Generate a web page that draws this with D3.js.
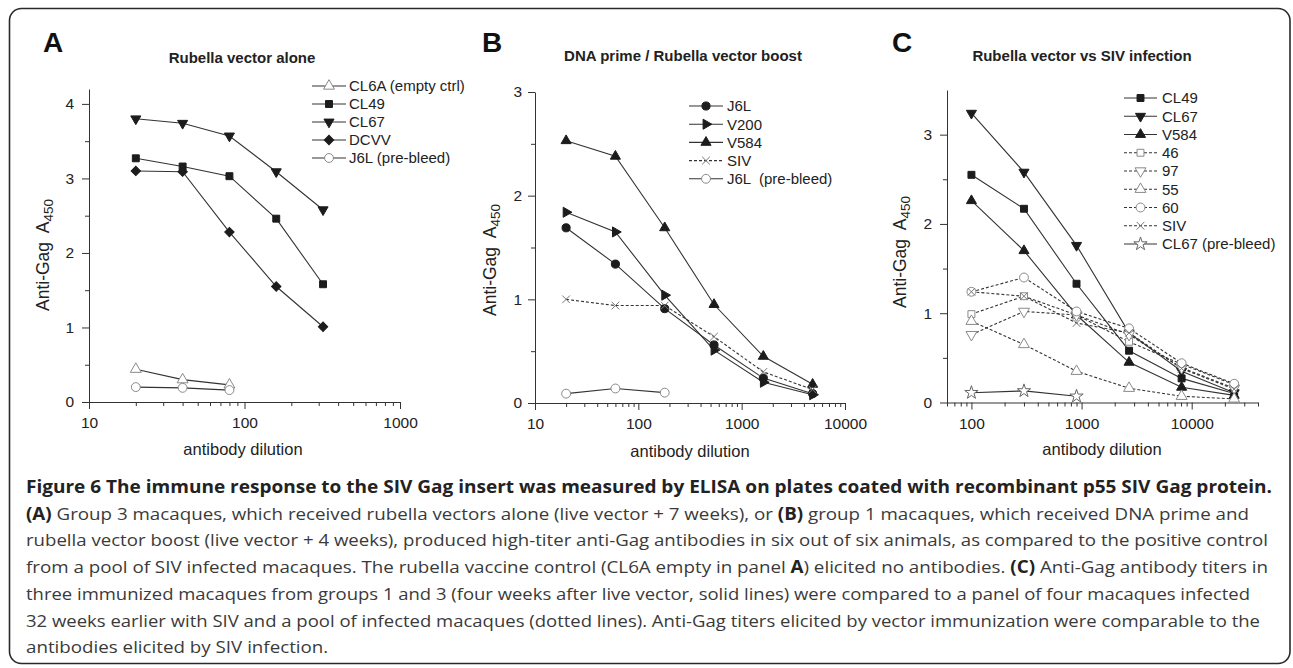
<!DOCTYPE html>
<html lang="en">
<head>
<meta charset="UTF-8">
<title>Figure 6 - anti-Gag ELISA</title>
<script src="https://d3js.org/d3.v7.min.js"></script>
<style>
    body { margin: 0; background: #fff; }
    svg { display: block; }
    .axis path, .axis line { stroke: #333; stroke-width: 1; }
    .axis text { font-family: "Liberation Sans", Arial, sans-serif; font-size: 15.5px; fill: #222; }
    .title { font-family: "Liberation Sans", Arial, sans-serif; font-size: 15px; font-weight: bold; fill: #222; }
    .letter { font-family: "Liberation Sans", Arial, sans-serif; font-size: 28px; font-weight: bold; fill: #111; }
    .lab { font-family: "Liberation Sans", Arial, sans-serif; font-size: 16.5px; fill: #222; }
    .ylab { font-family: "Liberation Sans", Arial, sans-serif; font-size: 17.5px; fill: #222; }
    .leg { font-family: "Liberation Sans", Arial, sans-serif; font-size: 15px; fill: #222; white-space: pre; }
    .cap { font-family: "Open Sans", "Noto Sans", sans-serif; font-size: 17px; fill: #3a3a3a; }
    .cap .b { font-weight: bold; fill: #222; }
</style>
</head>
<body>
<div id="chart"></div>
<script>
// ---- data ----
// panel A: rubella vector alone
const dilutionA = [20, 40, 80, 160, 320];
const aCL6A = [0.44, 0.30, 0.23];
const aCL49 = [3.27, 3.16, 3.03, 2.46, 1.58];
const aCL67 = [3.80, 3.74, 3.57, 3.09, 2.58];
const aDCVV = [3.10, 3.09, 2.28, 1.55, 1.01];
const aJ6LPre = [0.20, 0.19, 0.16];

// panel B: DNA prime / rubella vector boost
const dilutionB = [20, 60, 180, 540, 1620, 4860];
const bJ6L = [1.69, 1.34, 0.91, 0.56, 0.24, 0.09];
const bV200 = [1.84, 1.65, 1.04, 0.51, 0.20, 0.08];
const bV584 = [2.53, 2.38, 1.69, 0.95, 0.45, 0.18];
const bSIV = [1.00, 0.94, 0.94, 0.64, 0.30, 0.13];
const bJ6LPre = [0.09, 0.14, 0.10];

// panel C: rubella vector vs SIV infection
const dilutionC = [100, 300, 900, 2700, 8100, 24300];
const cCL49 = [2.55, 2.17, 1.33, 0.58, 0.27, 0.10];
const cCL67 = [3.24, 2.58, 1.76, 0.78, 0.35, 0.11];
const cV584 = [2.26, 1.70, 0.98, 0.45, 0.17, 0.08];
const c46 = [0.99, 1.19, 0.98, 0.68, 0.43, 0.20];
const c97 = [0.76, 1.02, 0.98, 0.76, 0.39, 0.16];
const c55 = [0.91, 0.65, 0.35, 0.16, 0.07, 0.04];
const c60 = [1.24, 1.40, 1.02, 0.83, 0.44, 0.21];
const cSIV = [1.24, 1.19, 0.89, 0.78, 0.38, 0.15];
const cCL67Pre = [0.11, 0.13, 0.07];

const xMajorA = [10, 100, 1000];
const xMajorB = [10, 100, 1000, 10000];
const xMajorC = [100, 1000, 10000];

const captionLines = [
    [["b", "Figure 6 The immune response to the SIV Gag insert was measured by ELISA on plates coated with recombinant p55 SIV Gag protein."]],
    [["b", "(A)"], ["n", " Group 3 macaques, which received rubella vectors alone (live vector + 7 weeks), or "], ["b", "(B)"], ["n", " group 1 macaques, which received DNA prime and"]],
    [["n", "rubella vector boost (live vector + 4 weeks), produced high-titer anti-Gag antibodies in six out of six animals, as compared to the positive control"]],
    [["n", "from a pool of SIV infected macaques. The rubella vaccine control (CL6A empty in panel "], ["b", "A"], ["n", ") elicited no antibodies. "], ["b", "(C)"], ["n", " Anti-Gag antibody titers in"]],
    [["n", "three immunized macaques from groups 1 and 3 (four weeks after live vector, solid lines) were compared to a panel of four macaques infected"]],
    [["n", "32 weeks earlier with SIV and a pool of infected macaques (dotted lines). Anti-Gag titers elicited by vector immunization were comparable to the"]],
    [["n", "antibodies elicited by SIV infection."]]
];
const captionEnds = [1272, 1249, 1268, 1268, 1250, 1260, null];

// ---- marker styles ----
const INK = "#1c1c1c", OPEN = "#8a8a8a", LINE = "#333";
const markers = {
    square:      { type: d3.symbolSquare, size: 48, rot: 0, fill: INK, stroke: INK },
    squareOpen:  { type: d3.symbolSquare, size: 48, rot: 0, fill: "#fff", stroke: OPEN },
    triUp:       { type: d3.symbolTriangle, size: 44, rot: 0, fill: INK, stroke: INK },
    triUpOpen:   { type: d3.symbolTriangle, size: 52, rot: 0, fill: "#fff", stroke: OPEN },
    triDown:     { type: d3.symbolTriangle, size: 44, rot: 180, fill: INK, stroke: INK },
    triDownOpen: { type: d3.symbolTriangle, size: 52, rot: 180, fill: "#fff", stroke: OPEN },
    triRight:    { type: d3.symbolTriangle, size: 44, rot: 90, fill: INK, stroke: INK },
    diamond:     { type: d3.symbolSquare, size: 44, rot: 45, fill: INK, stroke: INK },
    circle:      { type: d3.symbolCircle, size: 52, rot: 0, fill: INK, stroke: INK },
    circleOpen:  { type: d3.symbolCircle, size: 62, rot: 0, fill: "#fff", stroke: OPEN },
    cross:       { type: d3.symbolTimes || d3.symbolX, size: 40, rot: 0, fill: "none", stroke: "#777" },
    starOpen:    { type: d3.symbolStar, size: 55, rot: 0, fill: "#fff", stroke: "#666" }
};

const panels = [
    {
        letter: "A", title: "Rubella vector alone",
        xDomain: [10, 1000], xRange: [89, 400], yDomain: [0, 4.2], yRange: [402, 89],
        xMajor: xMajorA, yTicks: [0, 1, 2, 3, 4], yPad: 8,
        letterPos: [43, 52], titlePos: [242, 63], yLabPos: [49, 255], xLabPos: [243, 455],
        legend: { x1: 312, x2: 346, tx: 349, y0: 86, dy: 18 },
        series: [
            { name: "CL6A (empty ctrl)", x: dilutionA, v: aCL6A, m: "triUpOpen" },
            { name: "CL49", x: dilutionA, v: aCL49, m: "square" },
            { name: "CL67", x: dilutionA, v: aCL67, m: "triDown" },
            { name: "DCVV", x: dilutionA, v: aDCVV, m: "diamond" },
            { name: "J6L (pre-bleed)", x: dilutionA, v: aJ6LPre, m: "circleOpen" }
        ]
    },
    {
        letter: "B", title: "DNA prime / Rubella vector boost",
        xDomain: [10, 10000], xRange: [535, 845], yDomain: [0, 3], yRange: [403, 92],
        xMajor: xMajorB, yTicks: [0, 1, 2, 3], yPad: 6,
        letterPos: [482, 52], titlePos: [683, 61], yLabPos: [496, 260], xLabPos: [690, 457],
        legend: { x1: 689, x2: 723, tx: 727, y0: 106, dy: 18.2 },
        series: [
            { name: "J6L", x: dilutionB, v: bJ6L, m: "circle" },
            { name: "V200", x: dilutionB, v: bV200, m: "triRight" },
            { name: "V584", x: dilutionB, v: bV584, m: "triUp" },
            { name: "SIV", x: dilutionB, v: bSIV, m: "cross", dash: true },
            { name: "J6L  (pre-bleed)", x: dilutionB, v: bJ6LPre, m: "circleOpen" }
        ]
    },
    {
        letter: "C", title: "Rubella vector vs SIV infection",
        xDomain: [60, 40000], xRange: [947, 1258], yDomain: [0, 3.5], yRange: [402.5, 90],
        xMajor: xMajorC, yTicks: [0, 1, 2, 3], yPad: 8,
        letterPos: [892, 52], titlePos: [1082, 61], yLabPos: [906, 252], xLabPos: [1102, 455],
        legend: { x1: 1124, x2: 1157, tx: 1162, y0: 98, dy: 18.25 },
        series: [
            { name: "CL49", x: dilutionC, v: cCL49, m: "square" },
            { name: "CL67", x: dilutionC, v: cCL67, m: "triDown" },
            { name: "V584", x: dilutionC, v: cV584, m: "triUp" },
            { name: "46", x: dilutionC, v: c46, m: "squareOpen", dash: true },
            { name: "97", x: dilutionC, v: c97, m: "triDownOpen", dash: true },
            { name: "55", x: dilutionC, v: c55, m: "triUpOpen", dash: true },
            { name: "60", x: dilutionC, v: c60, m: "circleOpen", dash: true },
            { name: "SIV", x: dilutionC, v: cSIV, m: "cross", dash: true },
            { name: "CL67 (pre-bleed)", x: dilutionC, v: cCL67Pre, m: "starOpen" }
        ]
    }
];

const width = 1293, height = 668;
const svg = d3.select("#chart").append("svg")
    .attr("width", width)
    .attr("height", height);

// rounded frame round the whole figure
svg.append("rect")
    .attr("x", 9.5).attr("y", 8.5)
    .attr("width", 1280.5).attr("height", 655)
    .attr("rx", 12)
    .attr("fill", "none")
    .attr("stroke", "#2a2a2a")
    .attr("stroke-width", 1.6);

function drawMarker(g, m, cx, cy) {
    const s = markers[m];
    g.append("path")
        .attr("d", d3.symbol().type(s.type).size(s.size)())
        .attr("transform", `translate(${cx},${cy}) rotate(${s.rot})`)
        .attr("fill", s.fill)
        .attr("stroke", s.stroke)
        .attr("stroke-width", 1);
}

function logMinor(domain) {
    const out = [];
    for (let e = Math.floor(Math.log10(domain[0])); e <= Math.ceil(Math.log10(domain[1])); e++) {
        for (let k = 2; k <= 9; k++) {
            const v = k * Math.pow(10, e);
            if (v >= domain[0] && v <= domain[1]) out.push(v);
        }
    }
    return out;
}

panels.forEach(p => {
    const x = d3.scaleLog().domain(p.xDomain).range(p.xRange);
    const y = d3.scaleLinear().domain(p.yDomain).range(p.yRange);
    const g = svg.append("g");

    // x axis: labelled decades + minor ticks
    g.append("g").attr("class", "axis")
        .attr("transform", `translate(0,${p.yRange[0]})`)
        .call(d3.axisBottom(x).tickValues(p.xMajor).tickFormat(d3.format("d"))
            .tickSize(7).tickSizeOuter(0).tickPadding(8));
    g.append("g").attr("class", "axis")
        .attr("transform", `translate(0,${p.yRange[0]})`)
        .call(d3.axisBottom(x).tickValues(logMinor(p.xDomain)).tickFormat("")
            .tickSize(4).tickSizeOuter(0))
        .select(".domain").remove();

    // y axis
    const yMinor = d3.range(0.5, p.yDomain[1], 1);
    g.append("g").attr("class", "axis")
        .attr("transform", `translate(${p.xRange[0]},0)`)
        .call(d3.axisLeft(y).tickValues(p.yTicks).tickFormat(d3.format("d"))
            .tickSize(7).tickSizeOuter(0).tickPadding(p.yPad));
    g.append("g").attr("class", "axis")
        .attr("transform", `translate(${p.xRange[0]},0)`)
        .call(d3.axisLeft(y).tickValues(yMinor).tickFormat("").tickSize(4).tickSizeOuter(0))
        .select(".domain").remove();

    // texts
    g.append("text").attr("class", "letter")
        .attr("x", p.letterPos[0]).attr("y", p.letterPos[1]).text(p.letter);
    g.append("text").attr("class", "title")
        .attr("x", p.titlePos[0]).attr("y", p.titlePos[1])
        .attr("text-anchor", "middle").text(p.title);
    g.append("text").attr("class", "lab")
        .attr("x", p.xLabPos[0]).attr("y", p.xLabPos[1])
        .attr("text-anchor", "middle").text("antibody dilution");
    const yl = g.append("text").attr("class", "ylab")
        .attr("transform", `translate(${p.yLabPos[0]},${p.yLabPos[1]}) rotate(-90)`)
        .attr("text-anchor", "middle");
    yl.append("tspan").text("Anti-Gag  A").style("white-space", "pre");
    yl.append("tspan").attr("dy", 4).attr("font-size", 13.5).text("450");

    // lines
    const line = d3.line().x(d => x(d[0])).y(d => y(d[1]));
    p.series.forEach(s => {
        const pts = s.v.map((v, i) => [s.x[i], v]);
        g.append("path")
            .attr("d", line(pts))
            .attr("fill", "none")
            .attr("stroke", LINE)
            .attr("stroke-width", 1.1)
            .attr("stroke-dasharray", s.dash ? "3,2" : null);
    });
    // markers on top
    p.series.forEach(s => {
        s.v.forEach((v, i) => drawMarker(g, s.m, x(s.x[i]), y(v)));
    });

    // legend
    const L = p.legend;
    p.series.forEach((s, i) => {
        const ly = L.y0 + i * L.dy;
        g.append("line")
            .attr("x1", L.x1).attr("x2", L.x2).attr("y1", ly).attr("y2", ly)
            .attr("stroke", LINE).attr("stroke-width", 1.1)
            .attr("stroke-dasharray", s.dash ? "3,2" : null);
        drawMarker(g, s.m, (L.x1 + L.x2) / 2, ly);
        g.append("text").attr("class", "leg")
            .attr("x", L.tx).attr("y", ly).attr("dy", "0.36em").text(s.name);
    });
});

// caption
const cap = svg.append("g").attr("class", "cap");
let ratio = 1;
captionLines.forEach((parts, i) => {
    const t = cap.append("text").attr("x", 26).attr("y", 493 + i * 26.7);
    parts.forEach(([k, str]) => {
        t.append("tspan").attr("class", k === "b" ? "b" : null)
            .style("white-space", "pre").text(str);
    });
    const natural = t.node().getComputedTextLength();
    const target = captionEnds[i] != null ? captionEnds[i] - 26 : natural * ratio;
    if (captionEnds[i] != null && i === 1) ratio = target / natural;
    t.attr("textLength", target).attr("lengthAdjust", "spacingAndGlyphs");
});
</script>
</body>
</html>
